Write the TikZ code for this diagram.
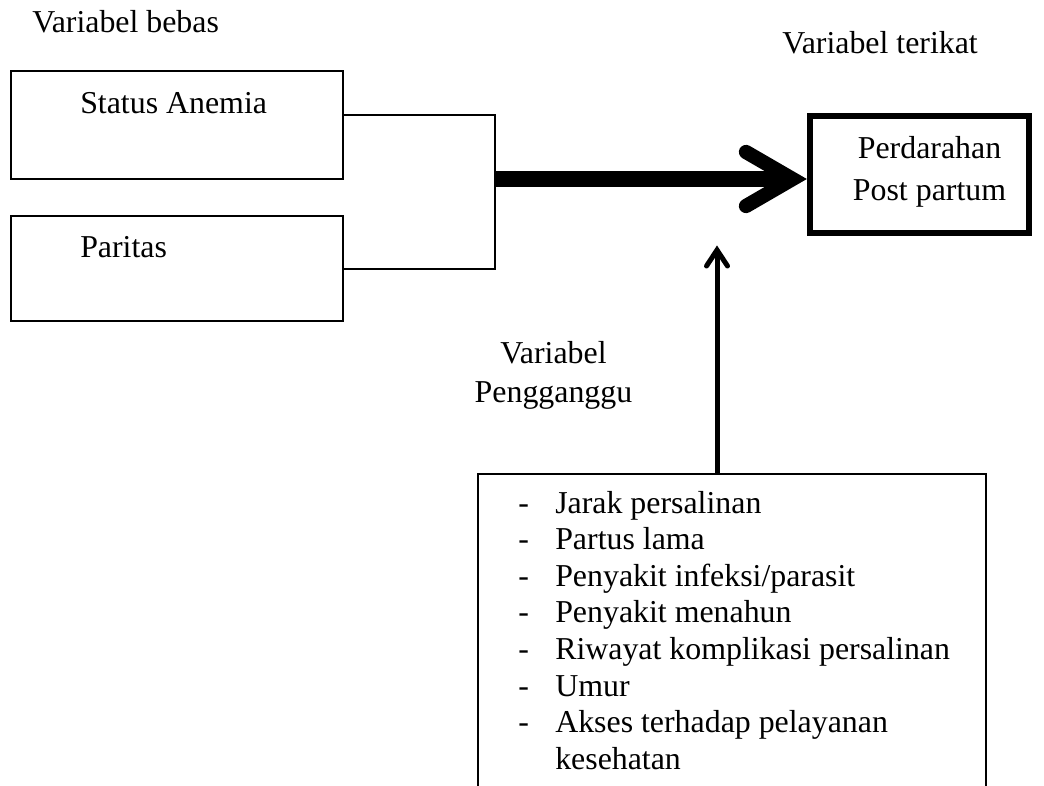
\documentclass[tikz,border=0pt]{standalone}
\usepackage{fontspec}
\setmainfont{Liberation Serif}
\usetikzlibrary{calc}
\begin{document}
\begin{tikzpicture}[x={(0.75pt,0)}, y={(0,-0.75pt)},
  lbl/.style={inner sep=0pt, font=\fontsize{23.9pt}{27.45pt}\selectfont},
  thinbox/.style={draw, line width=1pt, inner sep=0pt, outer sep=0pt},
  thinline/.style={line width=1pt},
  shaft/.style={line width=11.6pt},
  chev/.style={line width=10.7pt, line cap=round, line join=miter},
  vshaft/.style={line width=3.75pt},
  vchev/.style={line width=3.75pt, line cap=round, line join=miter}]
\useasboundingbox (0,0) rectangle (1044,785);
\clip (0,0) rectangle (1044,785);
% titles
\node[lbl, anchor=base west] (vb) at (32,32) {Variabel bebas};
\node[lbl, anchor=base] (vt) at (880,53) {Variabel terikat};
% left boxes
\node[thinbox, anchor=north west, minimum width=249pt, minimum height=81pt] (sa) at (11,71) {};
\node[lbl, anchor=base west] (sat) at (80,113) {Status Anemia};
\node[thinbox, anchor=north west, minimum width=249pt, minimum height=78.75pt] (pa) at (11,216) {};
\node[lbl, anchor=base west] (pat) at (80,257) {Paritas};
% outcome box
\node[draw, line width=4.5pt, inner sep=0pt, anchor=north west, minimum width=164.25pt, minimum height=87.75pt] (pp) at (807,113) {};
\node[lbl, anchor=base] (pp1) at (929.5,158) {Perdarahan};
\node[lbl, anchor=base] (pp2) at (929.5,200) {Post partum};
% confounder labels
\node[lbl, anchor=base] (vp1) at (553.5,363) {Variabel};
\node[lbl, anchor=base] (vp2) at (553.5,402) {Pengganggu};
% confounder box
\node[thinbox, anchor=north west, minimum width=381pt, minimum height=300pt] (pg) at (478,474) {};
\node[lbl, anchor=base west] (list) at (518,513) {\begin{tabular}[t]{@{}l@{}l@{}}
\makebox[27.75pt][l]{-} & Jarak persalinan\\
\makebox[27.75pt][l]{-} & Partus lama\\
\makebox[27.75pt][l]{-} & Penyakit infeksi/parasit\\
\makebox[27.75pt][l]{-} & Penyakit menahun\\
\makebox[27.75pt][l]{-} & Riwayat komplikasi persalinan\\
\makebox[27.75pt][l]{-} & Umur\\
\makebox[27.75pt][l]{-} & Akses terhadap pelayanan\\
 & kesehatan
\end{tabular}};
% connectors
\coordinate (ja) at (495,115);
\coordinate (jb) at (495,269);
\coordinate (jm) at (495,179);
\draw[thinline] (ja -| sa.east) -- (ja) -- (jb) -- (jb -| pa.east);
\draw[shaft] (jm) -- ($(jm -| pp.west)+(-14.4,0)$);
\draw[chev] ($(jm -| pp.west)+(-61,-27)$) -- ($(jm -| pp.west)+(-14.4,0)$) -- ($(jm -| pp.west)+(-61,27)$);
\coordinate (vtip) at (717,245);
\draw[vshaft] (vtip |- pg.north) -- ($(vtip)+(0,5)$);
\draw[vchev] ($(vtip)+(-10.5,21)$) -- ($(vtip)+(0,5)$) -- ($(vtip)+(10.5,21)$);
\end{tikzpicture}
\end{document}
